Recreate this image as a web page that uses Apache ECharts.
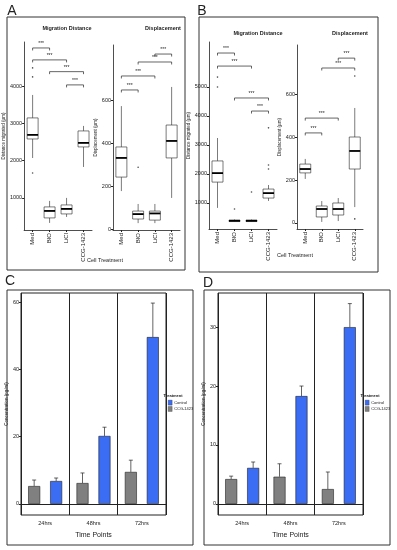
<!DOCTYPE html>
<html><head><meta charset="utf-8">
<script src="https://cdn.jsdelivr.net/npm/echarts@6/dist/echarts.min.js"></script>
<style>html,body{margin:0;padding:0;background:#fff}#c{width:397px;height:550px}</style>
</head><body><div id="c"></div>
<script>
// ---------- DATA ----------
const boxCategories = ['Med', 'BIO', 'LiCl', 'CCG-1423'];
// [min, Q1, median, Q3, max]
const aMigBoxes = [[2070, 2580, 2690, 3145, 3760], [330, 464, 651, 759, 920], [490, 571, 705, 812, 1000], [1830, 2367, 2475, 2796, 2930]];
const aMigOutliers = [[0, 4485], [0, 4244], [0, 1670]];
const aMigBrackets = [[0, 1, 5020], [0, 2, 4700], [1, 3, 4385], [2, 3, 4030]];
const aDispBoxes = [[179, 244, 333, 384, 574], [30, 49, 72, 86, 119], [30, 44, 75, 86, 119], [147, 333, 412, 486, 663]];
const aDispOutliers = [[1, 290]];
const aDispBrackets = [[0, 1, 649], [0, 2, 714], [1, 3, 779], [2, 3, 816]];
const bMigBoxes = [[830, 1720, 2030, 2450, 3240], [350, 360, 385, 410, 430], [350, 360, 385, 410, 430], [1070, 1170, 1340, 1480, 1620]];
const bMigOutliers = [[0, 5340], [0, 5000], [1, 790], [2, 1380], [3, 2310], [3, 2170], [3, 3590]];
const bMigBrackets = [[0, 1, 6170], [0, 2, 5720], [1, 3, 4620], [2, 3, 4170]];
const bDispBoxes = [[205, 233, 251, 274, 298], [5, 28, 65, 79, 102], [9, 37, 65, 93, 116], [74, 251, 335, 400, 535]];
const bDispOutliers = [[3, 19], [3, 684]];
const bDispBrackets = [[0, 1, 419], [0, 2, 488], [1, 3, 721], [2, 3, 767]];
const migTicksA = [1000, 2000, 3000, 4000];
const migTicksB = [1000, 2000, 3000, 4000, 5000];
const dispTicks = [0, 200, 400, 600];

const timeCategories = ['24hrs', '48hrs', '72hrs'];
const cCCG = [5.3, 6.2, 9.5];
const cCCGErr = [7.1, 9.2, 13.0];
const cControl = [6.8, 20.2, 49.6];
const cControlErr = [7.7, 22.8, 59.7];
const dCCG = [4.2, 4.6, 2.5];
const dCCGErr = [4.7, 6.8, 5.4];
const dControl = [6.1, 18.3, 30.0];
const dControlErr = [7.1, 20.0, 34.0];
const cTicks = [0, 20, 40, 60];
const dTicks = [0, 10, 20, 30];

// ---------- HELPERS ----------
const FONT = 'Liberation Sans, Arial, sans-serif';
const INK = '#222';
const GRAY = '#808080';
const BLUE = '#3b6cf4';
const plain = v => String(v);

function boxRender(params, api) {
  const c = api.value(0);
  const pMin = api.coord([c, api.value(1)]);
  const pQ1 = api.coord([c, api.value(2)]);
  const pMd = api.coord([c, api.value(3)]);
  const pQ3 = api.coord([c, api.value(4)]);
  const pMx = api.coord([c, api.value(5)]);
  const x = pMin[0], hw = 5.5;
  const ls = { stroke: INK, lineWidth: 0.6 };
  return { type: 'group', children: [
    { type: 'line', shape: { x1: x, y1: pMx[1], x2: x, y2: pQ3[1] }, style: ls },
    { type: 'line', shape: { x1: x, y1: pQ1[1], x2: x, y2: pMin[1] }, style: ls },
    { type: 'rect', shape: { x: x - hw, y: pQ3[1], width: 2 * hw, height: Math.max(pQ1[1] - pQ3[1], 1) }, style: { fill: '#fff', stroke: INK, lineWidth: 0.6 } },
    { type: 'line', shape: { x1: x - hw, y1: pMd[1], x2: x + hw, y2: pMd[1] }, style: { stroke: '#000', lineWidth: 1.8 } }
  ]};
}
function bracketRender(params, api) {
  const y = api.value(2);
  const p1 = api.coord([api.value(0), y]);
  const p2 = api.coord([api.value(1), y]);
  const ls = { stroke: INK, lineWidth: 0.7 };
  return { type: 'group', children: [
    { type: 'line', shape: { x1: p1[0], y1: p1[1], x2: p2[0], y2: p2[1] }, style: ls },
    { type: 'line', shape: { x1: p1[0], y1: p1[1], x2: p1[0], y2: p1[1] + 2.5 }, style: ls },
    { type: 'line', shape: { x1: p2[0], y1: p2[1], x2: p2[0], y2: p2[1] + 2.5 }, style: ls },
    { type: 'text', style: { x: (p1[0] + p2[0]) / 2, y: p1[1] - 2, text: '***', fill: INK, font: '5px ' + FONT, align: 'center', verticalAlign: 'bottom' } }
  ]};
}
function errRender(off) {
  return function (params, api) {
    const c = api.value(0);
    const p = api.coord([c, api.value(1)]);
    const pe = api.coord([c, api.value(2)]);
    const x = p[0] + off;
    const ls = { stroke: INK, lineWidth: 0.7 };
    return { type: 'group', children: [
      { type: 'line', shape: { x1: x, y1: p[1], x2: x, y2: pe[1] }, style: ls },
      { type: 'line', shape: { x1: x - 2, y1: pe[1], x2: x + 2, y2: pe[1] }, style: ls }
    ]};
  };
}
function boxData(arr) { return arr.map((b, i) => [i].concat(b)); }
function errData(vals, errs) { return vals.map((v, i) => [i, v, errs[i]]); }

function boxXAxis(gi) {
  return { type: 'category', gridIndex: gi, data: boxCategories,
    axisLine: { show: true, onZero: false, lineStyle: { color: INK, width: 0.8 } },
    axisTick: { show: true, alignWithLabel: true, length: 2, lineStyle: { color: INK } },
    axisLabel: { rotate: 90, fontSize: 6, color: INK, margin: 3, fontFamily: FONT, interval: 0 },
    splitLine: { show: false } };
}
function boxYAxis(gi, min, max, ticks, name, gap) {
  return { type: 'value', gridIndex: gi, min: min, max: max,
    name: name, nameLocation: 'middle', nameGap: gap, nameRotate: 90,
    nameTextStyle: { fontSize: 4.5, color: INK, fontFamily: FONT },
    axisLine: { show: true, lineStyle: { color: INK, width: 0.8 } },
    axisTick: { show: true, length: 2, customValues: ticks, lineStyle: { color: INK } },
    axisLabel: { fontSize: 5.5, color: INK, margin: 2, customValues: ticks, fontFamily: FONT, formatter: plain },
    splitLine: { show: false } };
}
function boxSeries(gi, boxes, outliers, brackets) {
  return [
    { type: 'custom', xAxisIndex: gi, yAxisIndex: gi, renderItem: boxRender, data: boxData(boxes), encode: { x: 0, y: [1, 2, 3, 4, 5] }, clip: false, silent: true },
    { type: 'scatter', xAxisIndex: gi, yAxisIndex: gi, data: outliers, symbolSize: 1.6, itemStyle: { color: INK }, silent: true },
    { type: 'custom', xAxisIndex: gi, yAxisIndex: gi, renderItem: bracketRender, data: brackets, encode: { x: [0, 1], y: 2 }, clip: false, silent: true }
  ];
}
function barXAxis(gi) {
  return { type: 'category', gridIndex: gi, data: timeCategories,
    name: 'Time Points', nameLocation: 'middle', nameGap: 17,
    nameTextStyle: { fontSize: 7, color: INK, fontFamily: FONT },
    axisLine: { show: false, onZero: false }, axisTick: { show: false },
    axisLabel: { fontSize: 5.5, color: INK, margin: 5, fontFamily: FONT },
    splitLine: { show: true, lineStyle: { color: INK, width: 1 } } };
}
function barYAxis(gi, min, max, ticks) {
  return { type: 'value', gridIndex: gi, min: min, max: max,
    name: 'Concentration (pg/ml)', nameLocation: 'middle', nameGap: 9, nameRotate: 90,
    nameTextStyle: { fontSize: 4.5, color: INK, fontFamily: FONT },
    axisLine: { show: false },
    axisTick: { show: true, length: 2, customValues: ticks, lineStyle: { color: INK } },
    axisLabel: { fontSize: 5.5, color: INK, margin: 2, customValues: ticks, fontFamily: FONT, formatter: plain },
    splitLine: { show: false } };
}
function barSeries(gi, ccg, ccgErr, ctrl, ctrlErr) {
  const common = { type: 'bar', xAxisIndex: gi, yAxisIndex: gi, barWidth: 12, barGap: '83%', silent: true };
  return [
    Object.assign({}, common, { name: 'CCG-1423', data: ccg, itemStyle: { color: GRAY, borderColor: INK, borderWidth: 0.6 },
      markLine: { silent: true, symbol: 'none', label: { show: false }, lineStyle: { color: INK, type: 'solid', width: 1 }, data: [{ yAxis: 0 }] } }),
    Object.assign({}, common, { name: 'Control', data: ctrl, itemStyle: { color: BLUE, borderColor: INK, borderWidth: 0.6 } }),
    { type: 'custom', xAxisIndex: gi, yAxisIndex: gi, renderItem: errRender(-11), data: errData(ccg, ccgErr), encode: { x: 0, y: [1, 2] }, clip: false, silent: true, z: 3 },
    { type: 'custom', xAxisIndex: gi, yAxisIndex: gi, renderItem: errRender(11), data: errData(ctrl, ctrlErr), encode: { x: 0, y: [1, 2] }, clip: false, silent: true, z: 3 }
  ];
}
function txt(x, y, s, size, weight, rot) {
  return { type: 'text', x: x, y: y, rotation: rot || 0, style: { text: s, fill: INK, font: (weight || 'normal') + ' ' + size + 'px ' + FONT, align: 'center', verticalAlign: 'middle' }, silent: true };
}
function frame(x, y, w, h) {
  return { type: 'rect', shape: { x: x, y: y, width: w, height: h }, style: { fill: 'none', stroke: '#333', lineWidth: 1 }, silent: true };
}
function legendAt(left) {
  return { left: left, top: 400, orient: 'vertical', itemWidth: 4, itemHeight: 5, itemGap: 1, icon: 'rect',
    itemStyle: { borderWidth: 0.3 },
    data: ['Control', 'CCG-1423'], textStyle: { fontSize: 4, color: INK, fontFamily: FONT, padding: [0, 0, 0, -3] },
    padding: 0, selectedMode: false };
}

const chart = echarts.init(document.getElementById('c'), null, { renderer: 'canvas' });
const option = {
  animation: false,
  backgroundColor: '#fff',
  textStyle: { fontFamily: FONT },
  grid: [
    { left: 24, top: 42, width: 68, height: 188 },
    { left: 113, top: 45, width: 67, height: 185 },
    { left: 209, top: 42, width: 68, height: 187 },
    { left: 297, top: 45, width: 66, height: 184 },
    { left: 21, top: 293, width: 145, height: 222, show: true, borderColor: INK, borderWidth: 1, backgroundColor: 'transparent' },
    { left: 218, top: 293, width: 145, height: 222, show: true, borderColor: INK, borderWidth: 1, backgroundColor: 'transparent' }
  ],
  xAxis: [boxXAxis(0), boxXAxis(1), boxXAxis(2), boxXAxis(3), barXAxis(4), barXAxis(5)],
  yAxis: [
    boxYAxis(0, 140, 5180, migTicksA, 'Distance migrated (µm)', 10),
    boxYAxis(1, -2, 858, dispTicks, 'Displacement (µm)', 10),
    boxYAxis(2, 103, 6550, migTicksB, 'Distance migrated (µm)', 9),
    boxYAxis(3, -28, 828, dispTicks, 'Displacement (µm)', 9),
    barYAxis(4, -3.3, 62.7, cTicks),
    barYAxis(5, -1.9, 35.8, dTicks)
  ],
  legend: [legendAt(168), legendAt(365)],
  series: [].concat(
    boxSeries(0, aMigBoxes, aMigOutliers, aMigBrackets),
    boxSeries(1, aDispBoxes, aDispOutliers, aDispBrackets),
    boxSeries(2, bMigBoxes, bMigOutliers, bMigBrackets),
    boxSeries(3, bDispBoxes, bDispOutliers, bDispBrackets),
    barSeries(4, cCCG, cCCGErr, cControl, cControlErr),
    barSeries(5, dCCG, dCCGErr, dControl, dControlErr)
  ),
  graphic: [
    frame(7, 17, 178, 253),
    frame(199, 17, 179, 255),
    frame(7, 290, 186, 255),
    frame(204, 290, 186, 255),
    txt(12, 11, 'A', 14),
    txt(202, 11, 'B', 14),
    txt(10, 281, 'C', 14),
    txt(208, 283, 'D', 14),
    txt(67, 28, 'Migration Distance', 5.5, 'bold'),
    txt(163, 28, 'Displacement', 5.5, 'bold'),
    txt(258, 33, 'Migration Distance', 5.5, 'bold'),
    txt(350, 33, 'Displacement', 5.5, 'bold'),
    txt(105, 260, 'Cell Treatment', 5.5),
    txt(295, 255, 'Cell Treatment', 5.5),
    txt(173, 396, 'Treatment', 4, 'bold'),
    txt(370, 396, 'Treatment', 4, 'bold')
  ]
};
chart.setOption(option);
</script>
</body></html>
